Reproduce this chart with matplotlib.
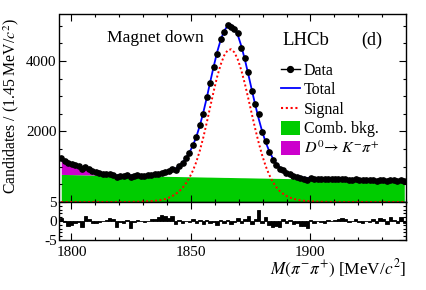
import numpy as np
import matplotlib
matplotlib.use("Agg")
import matplotlib.pyplot as plt
from matplotlib.ticker import MultipleLocator, FixedLocator
from matplotlib.lines import Line2D
from matplotlib.patches import Patch

plt.rcParams['font.family'] = ['Liberation Serif', 'DejaVu Serif']
plt.rcParams['mathtext.fontset'] = 'stix'

# ---- data ----
x_min, x_max, bin_width = 1795.0, 1940.0, 1.45
n_bins = 100

data_counts = [1243, 1165, 1098, 1069, 1045, 1022, 944, 994, 936, 872,
               837, 816, 793, 785, 789, 768, 709, 743, 739, 756,
               701, 745, 758, 749, 746, 760, 772, 784, 805, 835,
               847, 866, 931, 920, 1027, 1106, 1243, 1394, 1624, 1835,
               2174, 2498, 2972, 3370, 3831, 4186, 4609, 4812, 5010, 4974,
               4911, 4782, 4373, 4075, 3693, 3133, 2772, 2490, 1971, 1741,
               1411, 1195, 1054, 934, 914, 823, 795, 728, 711, 672,
               660, 633, 676, 655, 662, 649, 640, 654, 641, 646,
               648, 654, 647, 625, 634, 644, 622, 615, 627, 615,
               630, 603, 636, 627, 596, 636, 616, 595, 633, 594]

signal_curve = [0, 0, 0, 0, 0, 0, 0, 0, 0, 0,
                0, 0, 0, 0, 0, 0, 0, 0, 0, 3,
                4, 6, 8, 11, 15, 20, 26, 34, 45, 60,
                85, 120, 165, 225, 300, 400, 530, 690, 890, 1140,
                1455, 1830, 2250, 2700, 3140, 3550, 3890, 4150, 4300, 4330,
                4240, 4030, 3725, 3350, 2930, 2495, 2070, 1675, 1320, 1020,
                775, 580, 430, 318, 235, 172, 126, 92, 67, 49,
                36, 26, 19, 14, 10, 7, 5, 3, 2, 1,
                0, 0, 0, 0, 0, 0, 0, 0, 0, 0,
                0, 0, 0, 0, 0, 0, 0, 0, 0, 0]

comb_bkg = [782, 780, 778, 777, 775, 773, 771, 769, 768, 766,
            764, 762, 760, 759, 757, 755, 753, 751, 750, 748,
            746, 744, 742, 741, 739, 737, 735, 733, 732, 730,
            728, 726, 724, 723, 721, 719, 717, 715, 714, 712,
            710, 708, 706, 705, 703, 701, 699, 697, 696, 694,
            692, 690, 688, 687, 685, 683, 681, 679, 678, 676,
            674, 672, 670, 669, 667, 665, 663, 661, 660, 658,
            656, 654, 652, 651, 649, 647, 645, 643, 642, 640,
            638, 636, 634, 633, 631, 629, 627, 625, 624, 622,
            620, 618, 616, 615, 613, 611, 609, 607, 606, 604]

misid_bkg = [430, 395, 360, 325, 290, 255, 220, 185, 150, 118,
             88, 60, 36, 18, 7, 2, 0, 0, 0, 0] + [0] * 80

pulls = [0.9, -0.3, -1.2, -1.0, -0.6, -0.2, -1.5, 1.3, 0.6, -0.4,
         -0.5, -0.2, -0.1, 0.3, 0.9, 0.4, -1.6, -0.3, -0.4, 0.2,
         -1.8, -0.2, 0.3, -0.1, -0.3, 0.1, 0.4, 0.6, 1.0, 1.6,
         1.2, 0.7, 1.4, -0.9, 0.2, -0.4, -0.1, -0.3, 0.5, -0.4,
         0.2, -0.8, 0.3, -0.6, -0.2, -1.0, 0.3, -0.5, 0.2, -0.7,
         -0.3, 0.9, -0.6, 0.6, 1.3, -0.8, 0.4, 2.8, -0.6, 1.1,
         -1.0, -1.6, -1.4, -1.7, 0.4, -0.5, 0.2, -0.9, -0.6, -1.3,
         -1.2, -1.8, 0.2, -0.4, 0.1, -0.2, -0.4, 0.3, -0.1, 0.2,
         0.4, 0.7, 0.5, -0.3, 0.1, 0.6, -0.2, -0.4, 0.1, -0.3,
         0.4, -0.6, 0.8, 0.5, -0.7, 1.0, 0.3, -0.5, 1.1, -0.4]

legend_labels = ['Data', 'Total', 'Signal', 'Comb. bkg.', r'$D^0\!\rightarrow K^{-}\pi^{+}$']

# ---- derived ----
centers = x_min + bin_width * (np.arange(n_bins) + 0.5)
data = np.array(data_counts, dtype=float)
sig = np.array(signal_curve, dtype=float)
comb = np.array(comb_bkg, dtype=float)
mis = np.array(misid_bkg, dtype=float)
total = sig + comb + mis

W, H = 427, 290
fig = plt.figure(figsize=(W / 100, H / 100), dpi=100)
L, R = 59.5, 406
ax = fig.add_axes([L / W, (H - 202) / H, (R - L) / W, 188 / H])
axp = fig.add_axes([L / W, (H - 240) / H, (R - L) / W, 38 / H])

green = '#00cc00'
magenta = '#cc00cc'

ax.fill_between(centers, 0, comb, color=green, lw=0, zorder=1)
ax.fill_between(centers, comb, comb + mis, where=mis > 0, color=magenta, lw=0, zorder=1)
ax.plot(centers, total, color='#0000ff', lw=1.3, zorder=3)
ax.plot(centers, sig, color='#ff0000', lw=1.4, ls=(0, (1, 1.3)), zorder=3)
ax.errorbar(centers, data, yerr=np.sqrt(data), xerr=bin_width / 2, fmt='o',
            color='black', ms=3.8, lw=0.8, capsize=0, zorder=4)

ax.set_xlim(x_min, x_max)
ax.set_ylim(0, 5330)
ax.yaxis.set_major_locator(FixedLocator([2000, 4000]))
ax.yaxis.set_minor_locator(MultipleLocator(500))
ax.xaxis.set_major_locator(MultipleLocator(50))
ax.xaxis.set_minor_locator(MultipleLocator(10))
ax.set_xticklabels([])

axp.bar(centers, pulls, width=bin_width, color='black', edgecolor='black', lw=0.6)
axp.set_xlim(x_min, x_max)
axp.set_ylim(-5, 5)
axp.yaxis.set_major_locator(FixedLocator([-5, 0, 5]))
axp.set_yticklabels(['-5', '0', '5'])
axp.yaxis.set_minor_locator(MultipleLocator(1))
axp.xaxis.set_major_locator(MultipleLocator(50))
axp.xaxis.set_minor_locator(MultipleLocator(10))

for a in (ax, axp):
    a.tick_params(which='both', direction='in', top=True, right=True,
                  labelsize=11, width=0.8, pad=2)
    a.tick_params(which='major', length=5)
    a.tick_params(which='minor', length=2.5)
    for s in a.spines.values():
        s.set_linewidth(1.0)

axp.tick_params(axis='x', pad=4)

fig.text(155 / W, 1 - 38 / H, 'Magnet down', ha='center', va='center', fontsize=12.6)
fig.text(305.5 / W, 1 - 40 / H, 'LHCb', ha='center', va='center', fontsize=13.5)
fig.text(372 / W, 1 - 40 / H, '(d)', ha='center', va='center', fontsize=13)

handles = [Line2D([], [], color='black', marker='o', ms=4.2, lw=1.0),
           Line2D([], [], color='#0000ff', lw=1.3),
           Line2D([], [], color='#ff0000', lw=1.5, ls=(0, (1, 1.3))),
           Patch(facecolor=green, edgecolor='none'),
           Patch(facecolor=magenta, edgecolor='none')]
ax.legend(handles, legend_labels, loc='upper left', bbox_to_anchor=(0.639, 0.743),
          frameon=False, fontsize=11.5, handlelength=1.2, handleheight=0.95,
          handletextpad=0.25, labelspacing=0.2, borderaxespad=0, borderpad=0)

fig.text(11 / W, 1 - 106 / H, r'Candidates / (1.45 MeV/$c^2$)', rotation=90,
         ha='center', va='center', fontsize=11.3)
fig.text(R / W, 1 - 269 / H, r'$M(\pi^{-}\pi^{+})$ [MeV/$c^2$]', ha='right',
         va='center', fontsize=12.4)

fig.savefig('out.png', dpi=100)
